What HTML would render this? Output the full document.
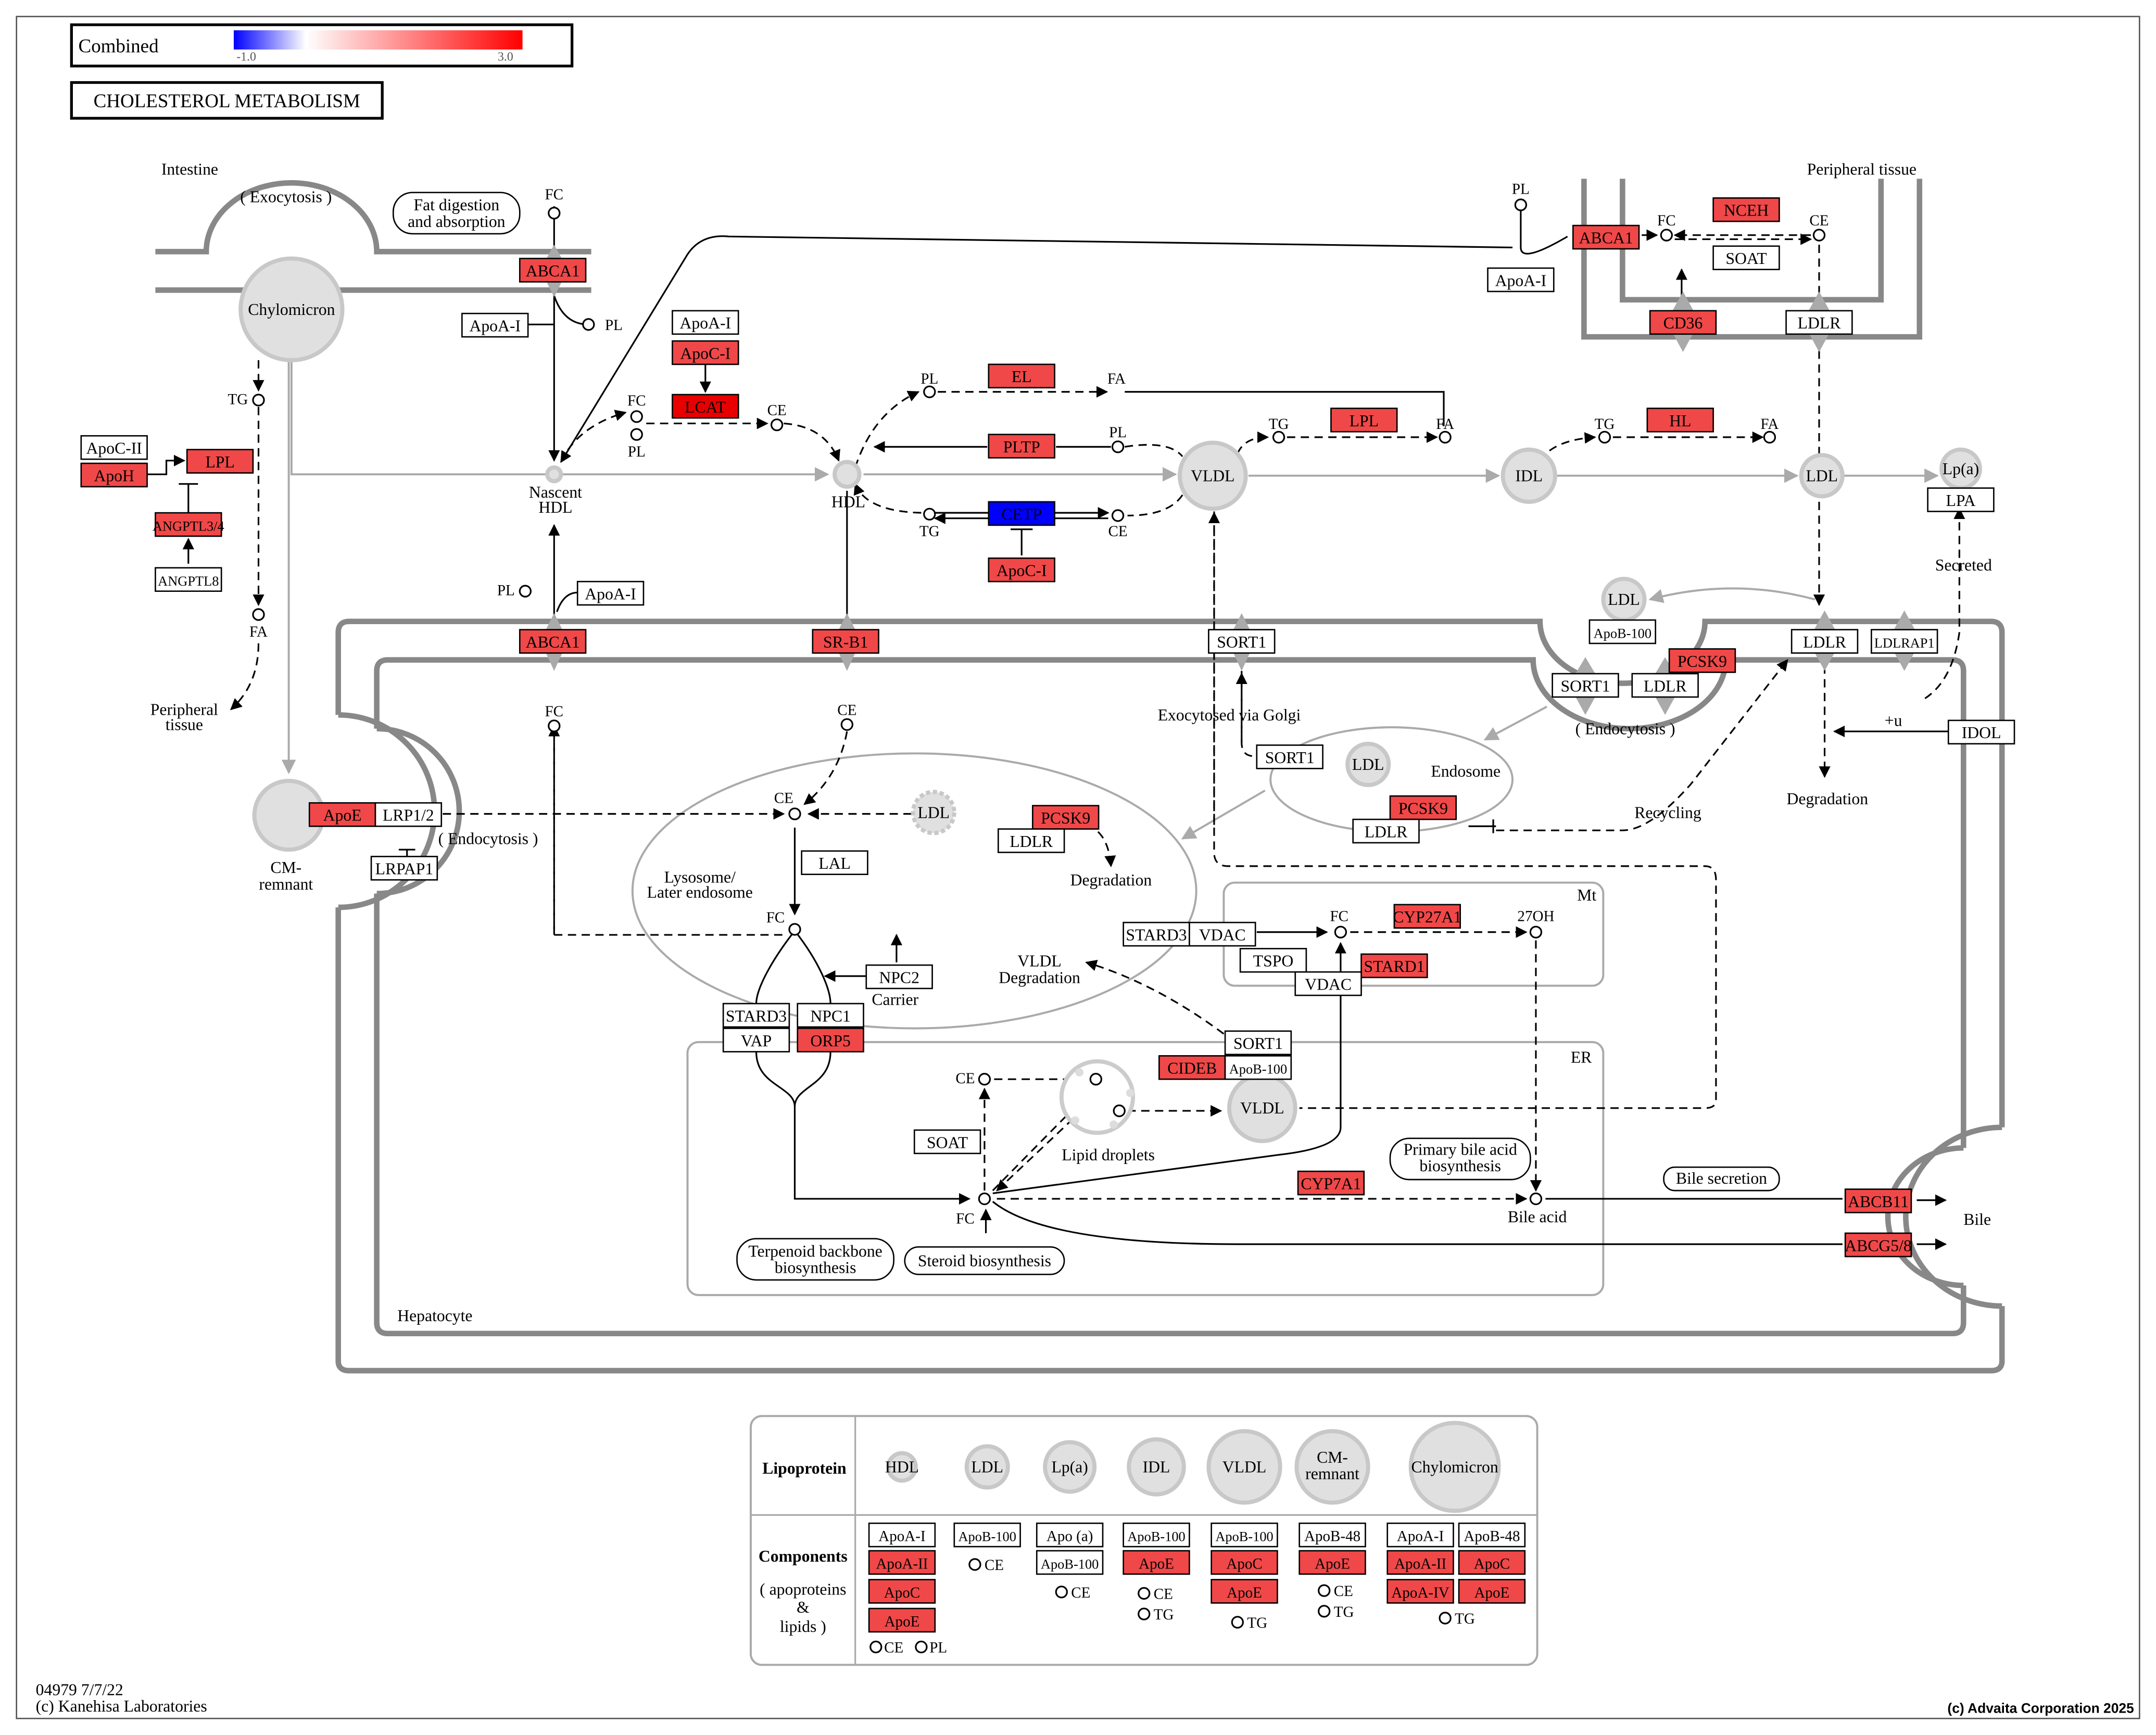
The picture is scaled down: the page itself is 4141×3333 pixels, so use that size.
<!DOCTYPE html>
<html><head><meta charset="utf-8"><style>html,body{margin:0;padding:0;background:#fff}svg{display:block}</style></head><body>
<svg width="4141" height="3333" viewBox="0 0 1568 1262" xmlns="http://www.w3.org/2000/svg" font-family="Liberation Serif, serif" font-size="12">
<defs>
<marker id="a" viewBox="0 0 10 10" refX="9" refY="5" markerWidth="7" markerHeight="7" orient="auto"><path d="M0,0L10,5L0,10z" fill="#000"/></marker>
<marker id="g" viewBox="0 0 10 10" refX="9" refY="5" markerWidth="7" markerHeight="7" orient="auto"><path d="M0,0L10,5L0,10z" fill="#aaa"/></marker>
<linearGradient id="grad" x1="0" x2="1"><stop offset="0" stop-color="#0000ff"/><stop offset="0.25" stop-color="#ffffff"/><stop offset="1" stop-color="#ff0000"/></linearGradient>
</defs>
<rect width="1568" height="1262" fill="#fff"/>
<rect x="12" y="12" width="1544" height="1238" fill="none" stroke="#555" stroke-width="1"/>
<rect x="52" y="18" width="364" height="30" fill="#fff" stroke="#000" stroke-width="2"/>
<text x="57" y="38" font-size="14">Combined</text>
<rect x="170" y="22" width="210" height="14" fill="url(#grad)"/>
<text x="172" y="44" font-size="9" fill="#555">-1.0</text><text x="362" y="44" font-size="9" fill="#555">3.0</text>
<rect x="52" y="60" width="226" height="26" fill="#fff" stroke="#000" stroke-width="2"/>
<text x="165" y="78" text-anchor="middle" font-size="14">CHOLESTEROL  METABOLISM</text>

<g fill="none" stroke="#888" stroke-width="4">
<path d="M113,183 H150 A62,50 0 0 1 274,183 H430"/>
<path d="M113,211 H430"/>
<path d="M1152,130 V245 H1396 V130"/>
<path d="M1180,130 V218 H1368 V130"/>
<path d="M246,520 V460 Q246,452 254,452 H1120 A60,45 0 0 0 1240,452 H1448 Q1456,452 1456,460 V820 M1456,950 V990 Q1456,997 1448,997 H254 Q246,997 246,990 V660"/>
<path d="M274,530 V488 Q274,480 282,480 H1115 A70,50 0 0 0 1255,480 H1420 Q1428,480 1428,488 V835 M1428,935 V962 Q1428,970 1420,970 H282 Q274,970 274,962 V650"/>
<path d="M246,520 A70,70 0 0 1 246,660 M274,530 A60,60 0 0 1 274,650"/>
<path d="M1456,820 A70,65 0 0 0 1456,950 M1428,835 A55,50 0 0 0 1428,935"/>
</g>
<g fill="none" stroke="#aaa" stroke-width="1.5">
<ellipse cx="665" cy="648" rx="205" ry="100"/>
<rect x="890" y="642" width="276" height="75" rx="8"/>
<rect x="500" y="758" width="666" height="184" rx="8"/>
<ellipse cx="1012" cy="567" rx="88" ry="38"/>
</g>
<g font-size="12">
<text x="138" y="127" text-anchor="middle">Intestine</text>
<text x="208" y="147" text-anchor="middle">( Exocytosis )</text>
<text x="1354" y="127" text-anchor="middle">Peripheral tissue</text>
<text x="134" y="520" text-anchor="middle">Peripheral</text><text x="134" y="531" text-anchor="middle">tissue</text>
<text x="208" y="635" text-anchor="middle">CM-</text><text x="208" y="647" text-anchor="middle">remnant</text>
<text x="355" y="614" text-anchor="middle">( Endocytosis )</text>
<text x="1182" y="534" text-anchor="middle">( Endocytosis )</text>
<text x="894" y="524" text-anchor="middle">Exocytosed via Golgi</text>
<text x="1066" y="565" text-anchor="middle">Endosome</text>
<text x="1213" y="595" text-anchor="middle">Recycling</text>
<text x="1329" y="585" text-anchor="middle">Degradation</text>
<text x="1428" y="415" text-anchor="middle">Secreted</text>
<text x="1377" y="528" text-anchor="middle">+u</text>
<text x="808" y="644" text-anchor="middle">Degradation</text>
<text x="509" y="642" text-anchor="middle">Lysosome/</text><text x="509" y="653" text-anchor="middle">Later endosome</text>
<text x="756" y="703" text-anchor="middle">VLDL</text><text x="756" y="715" text-anchor="middle">Degradation</text>
<text x="651" y="731" text-anchor="middle">Carrier</text>
<text x="1154" y="655" text-anchor="middle">Mt</text>
<text x="1150" y="773" text-anchor="middle">ER</text>
<text x="806" y="844" text-anchor="middle">Lipid droplets</text>
<text x="1118" y="889" text-anchor="middle">Bile acid</text>
<text x="1438" y="891" text-anchor="middle">Bile</text>
<text x="289" y="961">Hepatocyte</text>
<text x="404" y="362" text-anchor="middle">Nascent</text><text x="404" y="373" text-anchor="middle">HDL</text>
<text x="617" y="369" text-anchor="middle">HDL</text>
<text x="26" y="1233">04979 7/7/22</text><text x="26" y="1245">(c) Kanehisa Laboratories</text>
<text x="1552" y="1246" text-anchor="end" font-family="Liberation Sans, sans-serif" font-weight="bold" font-size="10">(c) Advaita Corporation 2025</text>
</g>
<g font-size="11">
<text x="403" y="145" text-anchor="middle">FC</text>
<text x="440" y="240">PL</text>
<text x="173" y="294" text-anchor="middle">TG</text>
<text x="188" y="463" text-anchor="middle">FA</text>
<text x="463" y="295" text-anchor="middle">FC</text><text x="463" y="332" text-anchor="middle">PL</text>
<text x="565" y="302" text-anchor="middle">CE</text>
<text x="676" y="279" text-anchor="middle">PL</text><text x="812" y="279" text-anchor="middle">FA</text>
<text x="813" y="318" text-anchor="middle">PL</text>
<text x="676" y="390" text-anchor="middle">TG</text><text x="813" y="390" text-anchor="middle">CE</text>
<text x="930" y="312" text-anchor="middle">TG</text><text x="1051" y="312" text-anchor="middle">FA</text>
<text x="1167" y="312" text-anchor="middle">TG</text><text x="1287" y="312" text-anchor="middle">FA</text>
<text x="1106" y="141" text-anchor="middle">PL</text>
<text x="1212" y="164" text-anchor="middle">FC</text><text x="1323" y="164" text-anchor="middle">CE</text>
<text x="368" y="433" text-anchor="middle">PL</text>
<text x="403" y="521" text-anchor="middle">FC</text>
<text x="616" y="520" text-anchor="middle">CE</text>
<text x="570" y="584" text-anchor="middle">CE</text>
<text x="564" y="671" text-anchor="middle">FC</text>
<text x="974" y="670" text-anchor="middle">FC</text><text x="1117" y="670" text-anchor="middle">27OH</text>
<text x="702" y="788" text-anchor="middle">CE</text><text x="813" y="789" text-anchor="middle">CE</text>
<text x="800" y="813" text-anchor="middle">TG</text>
<text x="702" y="890" text-anchor="middle">FC</text>
</g>
<g fill="none" stroke="#aaa" stroke-width="1.5">
<path d="M212,263 V345 H602" marker-end="url(#g)"/>
<path d="M210,263 V562" marker-end="url(#g)"/>
<path d="M628,345 H855" marker-end="url(#g)"/>
<path d="M908,346 H1090" marker-end="url(#g)"/>
<path d="M1132,346 H1307" marker-end="url(#g)"/>
<path d="M1341,346 H1409" marker-end="url(#g)"/>
<path d="M1320,436 Q1260,420 1200,436" marker-end="url(#g)"/>
<path d="M1125,514 L1080,538" marker-end="url(#g)"/>
<path d="M920,575 L860,610" marker-end="url(#g)"/>
</g>
<g fill="none" stroke="#000" stroke-width="1.2">
<path d="M403,150 V335" marker-end="url(#a)"/>
<path d="M428,236 Q410,236 403,215"/>
<path d="M384,236 H403"/>
<path d="M513,264 V285" marker-end="url(#a)"/>
<path d="M1100,180 L530,172 Q510,170 500,185 L408,336" marker-end="url(#a)"/>
<path d="M1106,153 V180 Q1106,192 1140,172"/>
<path d="M137,410 V392" marker-end="url(#a)"/>
<path d="M137,373 V352 M130,352 H144"/>
<path d="M107,345 H121 V335 H134" marker-end="url(#a)"/>
<path d="M403,455 V382" marker-end="url(#a)"/>
<path d="M420,431 Q410,431 405,445"/>
<path d="M616,455 V357"/>
<path d="M718,325 H636" marker-end="url(#a)"/>
<path d="M768,325 H808"/>
<path d="M680,373 H806" marker-end="url(#a)"/>
<path d="M806,377 H680" marker-end="url(#a)"/>
<path d="M743,404 V385 M735,385 H751"/>
<path d="M818,285 H1050 V310"/>
<path d="M1223,225 V196" marker-end="url(#a)"/>
<path d="M1420,532 H1334" marker-end="url(#a)"/>
<path d="M1068,601 L1088,601 M1086,596 V606"/>
<path d="M578,602 V665" marker-end="url(#a)"/>
<path d="M578,677 C560,700 550,720 550,730 M578,677 C596,700 604,720 604,730"/>
<path d="M550,765 C550,790 578,790 578,805 C578,790 604,790 604,765"/>
<path d="M578,805 V872 H705" marker-end="url(#a)"/>
<path d="M652,710 H630" /><path d="M630,710 L600,710" marker-end="url(#a)"/>
<path d="M652,700 V680" marker-end="url(#a)"/>
<path d="M914,678 H965" marker-end="url(#a)"/>
<path d="M975,706 V686" marker-end="url(#a)"/>
<path d="M975,706 V820 Q975,835 930,840 L722,868"/>
<path d="M1124,872 H1340 M1394,873 H1415" marker-end="url(#a)"/>
<path d="M722,874 Q760,905 900,905 H1340 M1394,905 H1415" marker-end="url(#a)"/>
<path d="M717,897 V880" marker-end="url(#a)"/>
<path d="M296,618 V626 M290,618 H302"/>
</g>
<g fill="none" stroke="#000" stroke-width="1.2" stroke-dasharray="6,4">
<path d="M188,296 V440" marker-end="url(#a)"/>
<path d="M188,468 C188,490 180,505 168,516" marker-end="url(#a)"/>
<path d="M188,262 V284" marker-end="url(#a)"/>
<path d="M408,336 Q420,310 455,300" marker-end="url(#a)"/>
<path d="M470,308 H558" marker-end="url(#a)"/>
<path d="M570,308 Q600,310 610,335" marker-end="url(#a)"/>
<path d="M622,340 Q635,300 668,285" marker-end="url(#a)"/>
<path d="M682,285 H805" marker-end="url(#a)"/>
<path d="M818,325 Q850,320 860,332" />
<path d="M860,360 Q850,375 820,375" />
<path d="M670,373 Q630,372 622,352" marker-end="url(#a)"/>
<path d="M900,330 Q905,318 922,318" marker-end="url(#a)"/>
<path d="M936,318 H1045" marker-end="url(#a)"/>
<path d="M1120,335 Q1130,320 1160,318" marker-end="url(#a)"/>
<path d="M1173,318 H1282" marker-end="url(#a)"/>
<path d="M1317,171 H1218" marker-end="url(#a)"/>
<path d="M1218,174 H1317" marker-end="url(#a)"/>
<path d="M1194,171 H1205" marker-end="url(#a)"/>
<path d="M1323,178 V225 M1323,245 V440" marker-end="url(#a)"/>
<path d="M1327,484 V565" marker-end="url(#a)"/>
<path d="M1400,508 Q1420,495 1425,460 V370" marker-end="url(#a)"/>
<path d="M403,530 V680 H570" />
<path d="M403,680 V528" marker-end="url(#a)"/>
<path d="M322,592 H570" marker-end="url(#a)"/>
<path d="M663,592 H588" marker-end="url(#a)"/>
<path d="M616,532 Q610,565 585,585" marker-end="url(#a)"/>
<path d="M903,488 V540 Q903,550 912,550" />
<path d="M903,540 V490" marker-end="url(#a)"/>
<path d="M883,372 V620 Q883,630 893,630 H1240 Q1248,630 1248,640 V800 Q1248,806 1240,806 H945"/>
<path d="M883,600 V373" marker-end="url(#a)"/>
<path d="M1088,604 H1180 Q1200,604 1230,570 L1300,480" marker-end="url(#a)"/>
<path d="M790,600 Q806,605 808,630" marker-end="url(#a)"/>
<path d="M982,678 H1110" marker-end="url(#a)"/>
<path d="M1117,684 V866" marker-end="url(#a)"/>
<path d="M890,752 Q840,715 790,700" marker-end="url(#a)"/>
<path d="M723,785 H790" marker-end="url(#a)"/>
<path d="M820,808 H888" marker-end="url(#a)"/>
<path d="M716,866 V792" marker-end="url(#a)"/>
<path d="M722,866 L785,802" marker-end="url(#a)"/>
<path d="M795,800 L725,866" marker-end="url(#a)"/>
<path d="M725,872 H1110" marker-end="url(#a)"/>
</g>
<g fill="#aaa">
<path d="M403,178 L413,196 L403,216 L393,196z"/>
<path d="M403,446 L413,466 L403,488 L393,466z"/>
<path d="M616,446 L626,466 L616,488 L606,466z"/>
<path d="M903,446 L913,466 L903,488 L893,466z"/>
<path d="M1224,212 L1236,234 L1224,256 L1212,234z"/>
<path d="M1323,212 L1335,234 L1323,256 L1311,234z"/>
<path d="M1327,444 L1339,466 L1327,488 L1315,466z"/>
<path d="M1385,444 L1397,466 L1385,488 L1373,466z"/>
<path d="M1153,478 L1165,498 L1153,520 L1141,498z"/>
<path d="M1211,478 L1223,498 L1211,520 L1199,498z"/>
</g>
<g fill="#e0e0e0" stroke="#c8c8c8" stroke-width="3">
<circle cx="212" cy="225" r="37"/>
<circle cx="210" cy="593" r="25"/>
<circle cx="616" cy="345" r="9"/>
<circle cx="403" cy="345" r="5"/>
<circle cx="882" cy="346" r="24"/>
<circle cx="1112" cy="346" r="19"/>
<circle cx="1325" cy="346" r="15"/>
<circle cx="1426" cy="341" r="14"/>
<circle cx="1181" cy="436" r="15"/>
<circle cx="995" cy="556" r="15"/>
<circle cx="918" cy="806" r="24"/>
<circle cx="679" cy="591" r="15" stroke-dasharray="3,2"/>
<circle cx="798" cy="798" r="26" fill="#fff" stroke="#ccc"/>
</g>
<g fill="#ddd"><circle cx="785" cy="780" r="3"/><circle cx="822" cy="795" r="3"/><circle cx="782" cy="815" r="3"/><circle cx="810" cy="818" r="3"/></g>
<g font-size="12" text-anchor="middle">
<text x="212" y="229">Chylomicron</text>
<text x="882" y="350">VLDL</text><text x="1112" y="350">IDL</text><text x="1325" y="350">LDL</text>
<text x="1426" y="345">Lp(a)</text><text x="1181" y="440">LDL</text><text x="995" y="560">LDL</text>
<text x="918" y="810">VLDL</text><text x="679" y="595">LDL</text>
</g>
<g fill="#fff" stroke="#000" stroke-width="1.2">
<circle cx="403" cy="155" r="4"/><circle cx="428" cy="236" r="4"/><circle cx="188" cy="291" r="4"/><circle cx="188" cy="447" r="4"/>
<circle cx="463" cy="303" r="4"/><circle cx="463" cy="316" r="4"/><circle cx="565" cy="309" r="4"/>
<circle cx="676" cy="285" r="4"/><circle cx="813" cy="325" r="4"/><circle cx="676" cy="374" r="4"/><circle cx="813" cy="375" r="4"/>
<circle cx="930" cy="318" r="4"/><circle cx="1051" cy="318" r="4"/><circle cx="1167" cy="318" r="4"/><circle cx="1287" cy="318" r="4"/>
<circle cx="1106" cy="149" r="4"/><circle cx="1212" cy="171" r="4"/><circle cx="1323" cy="171" r="4"/>
<circle cx="382" cy="430" r="4"/><circle cx="403" cy="528" r="4"/><circle cx="616" cy="527" r="4"/>
<circle cx="578" cy="592" r="4"/><circle cx="578" cy="676" r="4"/><circle cx="975" cy="678" r="4"/><circle cx="1117" cy="678" r="4"/>
<circle cx="716" cy="785" r="4"/><circle cx="797" cy="785" r="4"/><circle cx="814" cy="808" r="4"/><circle cx="716" cy="872" r="4"/><circle cx="1117" cy="872" r="4"/>
</g>
<g fill="#fff" stroke="#000" stroke-width="1">
<rect x="286" y="140" width="92" height="30" rx="14"/>
<rect x="1011" y="828" width="102" height="30" rx="14"/>
<rect x="1210" y="849" width="84" height="17" rx="8"/>
<rect x="536" y="901" width="114" height="30" rx="14"/>
<rect x="658" y="907" width="116" height="20" rx="10"/>
</g>
<g font-size="12" text-anchor="middle">
<text x="332" y="153">Fat digestion</text><text x="332" y="165">and absorption</text>
<text x="1062" y="840">Primary bile acid</text><text x="1062" y="852">biosynthesis</text>
<text x="1252" y="861">Bile secretion</text>
<text x="593" y="914">Terpenoid backbone</text><text x="593" y="926">biosynthesis</text>
<text x="716" y="921">Steroid biosynthesis</text>
</g>
<g stroke="#000" stroke-width="1" font-size="12" text-anchor="middle">
<g fill="#f04848">
<rect x="378" y="188" width="48" height="17"/>
<rect x="489" y="248" width="48" height="17"/>
<rect x="136" y="327" width="48" height="17"/>
<rect x="59" y="337" width="48" height="17"/>
<rect x="113" y="373" width="48" height="17"/>
<rect x="719" y="265" width="48" height="17"/>
<rect x="719" y="316" width="48" height="17"/>
<rect x="719" y="406" width="48" height="17"/>
<rect x="968" y="297" width="48" height="17"/>
<rect x="1198" y="297" width="48" height="17"/>
<rect x="1144" y="164" width="48" height="17"/>
<rect x="1246" y="144" width="48" height="17"/>
<rect x="1200" y="226" width="48" height="17"/>
<rect x="378" y="458" width="48" height="17"/>
<rect x="591" y="458" width="48" height="17"/>
<rect x="1214" y="472" width="48" height="17"/>
<rect x="1011" y="579" width="48" height="17"/>
<rect x="225" y="584" width="48" height="17"/>
<rect x="751" y="586" width="48" height="17"/>
<rect x="1014" y="658" width="48" height="17"/>
<rect x="990" y="694" width="48" height="17"/>
<rect x="580" y="748" width="48" height="17"/>
<rect x="843" y="768" width="48" height="17"/>
<rect x="944" y="852" width="48" height="17"/>
<rect x="1342" y="865" width="48" height="17"/>
<rect x="1342" y="897" width="48" height="17"/>
</g>
<rect x="489" y="287" width="48" height="17" fill="#e80000"/>
<rect x="719" y="365" width="48" height="17" fill="#0000ff"/>
<g fill="#fff">
<rect x="336" y="228" width="48" height="17"/>
<rect x="489" y="226" width="48" height="17"/>
<rect x="59" y="317" width="48" height="17"/>
<rect x="113" y="413" width="48" height="17"/>
<rect x="1082" y="195" width="48" height="17"/>
<rect x="1246" y="179" width="48" height="17"/>
<rect x="1299" y="226" width="48" height="17"/>
<rect x="1402" y="355" width="48" height="17"/>
<rect x="420" y="423" width="48" height="17"/>
<rect x="879" y="458" width="48" height="17"/>
<rect x="1156" y="451" width="48" height="17"/>
<rect x="1129" y="490" width="48" height="17"/>
<rect x="1187" y="490" width="48" height="17"/>
<rect x="1303" y="458" width="48" height="17"/>
<rect x="1361" y="458" width="48" height="17"/>
<rect x="1417" y="524" width="48" height="17"/>
<rect x="914" y="542" width="48" height="17"/>
<rect x="984" y="596" width="48" height="17"/>
<rect x="273" y="584" width="48" height="17"/>
<rect x="270" y="623" width="48" height="17"/>
<rect x="583" y="619" width="48" height="17"/>
<rect x="726" y="603" width="48" height="17"/>
<rect x="817" y="671" width="48" height="17"/>
<rect x="865" y="671" width="48" height="17"/>
<rect x="902" y="690" width="48" height="17"/>
<rect x="942" y="707" width="48" height="17"/>
<rect x="630" y="702" width="48" height="17"/>
<rect x="526" y="730" width="48" height="17"/>
<rect x="580" y="730" width="48" height="17"/>
<rect x="526" y="748" width="48" height="17"/>
<rect x="891" y="750" width="48" height="17"/>
<rect x="891" y="768" width="48" height="17"/>
<rect x="665" y="822" width="48" height="17"/>
</g>
</g>
<g font-size="12" text-anchor="middle">
<text x="402" y="201">ABCA1</text><text x="513" y="261">ApoC-I</text><text x="160" y="340">LPL</text><text x="83" y="350">ApoH</text>
<text x="137" y="386" font-size="10">ANGPTL3/4</text><text x="743" y="278">EL</text><text x="743" y="329">PLTP</text><text x="743" y="419">ApoC-I</text>
<text x="992" y="310">LPL</text><text x="1222" y="310">HL</text><text x="1168" y="177">ABCA1</text><text x="1270" y="157">NCEH</text>
<text x="1224" y="239">CD36</text><text x="402" y="471">ABCA1</text><text x="615" y="471">SR-B1</text><text x="1238" y="485">PCSK9</text>
<text x="1035" y="592">PCSK9</text><text x="249" y="597">ApoE</text><text x="775" y="599">PCSK9</text><text x="1038" y="671">CYP27A1</text>
<text x="1014" y="707">STARD1</text><text x="604" y="761">ORP5</text><text x="867" y="781">CIDEB</text><text x="968" y="865">CYP7A1</text>
<text x="1366" y="878">ABCB11</text><text x="1366" y="910">ABCG5/8</text>
<text x="513" y="300">LCAT</text><text x="743" y="378">CETP</text>
<text x="360" y="241">ApoA-I</text><text x="513" y="239">ApoA-I</text><text x="83" y="330">ApoC-II</text><text x="137" y="426" font-size="10">ANGPTL8</text>
<text x="1106" y="208">ApoA-I</text><text x="1270" y="192">SOAT</text><text x="1323" y="239">LDLR</text><text x="1426" y="368">LPA</text>
<text x="444" y="436">ApoA-I</text><text x="903" y="471">SORT1</text><text x="1180" y="464" font-size="10">ApoB-100</text>
<text x="1153" y="503">SORT1</text><text x="1211" y="503">LDLR</text><text x="1327" y="471">LDLR</text><text x="1385" y="471" font-size="10">LDLRAP1</text>
<text x="1441" y="537">IDOL</text><text x="938" y="555">SORT1</text><text x="1008" y="609">LDLR</text><text x="297" y="597">LRP1/2</text>
<text x="294" y="636">LRPAP1</text><text x="607" y="632">LAL</text><text x="750" y="616">LDLR</text><text x="841" y="684">STARD3</text>
<text x="889" y="684">VDAC</text><text x="926" y="703">TSPO</text><text x="966" y="720">VDAC</text><text x="654" y="715">NPC2</text>
<text x="550" y="743">STARD3</text><text x="604" y="743">NPC1</text><text x="550" y="761">VAP</text><text x="915" y="763">SORT1</text>
<text x="915" y="781" font-size="10">ApoB-100</text><text x="689" y="835">SOAT</text>
</g>

<rect x="546" y="1030" width="572" height="181" rx="8" fill="#fff" stroke="#aaa" stroke-width="1.5"/>
<path d="M622,1030 V1211 M546,1102 H1118" stroke="#aaa" stroke-width="1.2"/>
<g font-size="12" text-anchor="middle">
<text x="585" y="1072" font-weight="bold">Lipoprotein</text>
<text x="584" y="1136" font-weight="bold">Components</text>
<text x="584" y="1160">( apoproteins</text><text x="584" y="1173">&amp;</text><text x="584" y="1187">lipids )</text>
</g>
<g fill="#e0e0e0" stroke="#c8c8c8" stroke-width="3">
<circle cx="656" cy="1067" r="10"/><circle cx="718" cy="1067" r="15"/><circle cx="778" cy="1067" r="18"/>
<circle cx="841" cy="1067" r="20"/><circle cx="905" cy="1067" r="26"/><circle cx="969" cy="1067" r="26"/><circle cx="1058" cy="1067" r="32"/>
</g>
<g font-size="12" text-anchor="middle">
<text x="656" y="1071">HDL</text><text x="718" y="1071">LDL</text><text x="778" y="1071">Lp(a)</text><text x="841" y="1071">IDL</text>
<text x="905" y="1071">VLDL</text><text x="969" y="1064">CM-</text><text x="969" y="1076">remnant</text><text x="1058" y="1071">Chylomicron</text>
</g>
<g stroke="#000" stroke-width="1">
<g fill="#fff">
<rect x="632" y="1108" width="48" height="17"/><rect x="694" y="1108" width="48" height="17"/><rect x="754" y="1108" width="48" height="17"/>
<rect x="754" y="1128" width="48" height="17"/><rect x="817" y="1108" width="48" height="17"/><rect x="881" y="1108" width="48" height="17"/>
<rect x="945" y="1108" width="48" height="17"/><rect x="1009" y="1108" width="48" height="17"/><rect x="1061" y="1108" width="48" height="17"/>
</g>
<g fill="#f04848">
<rect x="632" y="1128" width="48" height="17"/><rect x="632" y="1149" width="48" height="17"/><rect x="632" y="1170" width="48" height="17"/>
<rect x="817" y="1128" width="48" height="17"/><rect x="881" y="1128" width="48" height="17"/><rect x="881" y="1149" width="48" height="17"/>
<rect x="945" y="1128" width="48" height="17"/><rect x="1009" y="1128" width="48" height="17"/><rect x="1009" y="1149" width="48" height="17"/>
<rect x="1061" y="1128" width="48" height="17"/><rect x="1061" y="1149" width="48" height="17"/>
</g>
</g>
<g font-size="11" text-anchor="middle">
<text x="656" y="1121">ApoA-I</text><text x="718" y="1121" font-size="10">ApoB-100</text><text x="778" y="1121">Apo (a)</text>
<text x="778" y="1141" font-size="10">ApoB-100</text><text x="841" y="1121" font-size="10">ApoB-100</text><text x="905" y="1121" font-size="10">ApoB-100</text>
<text x="969" y="1121">ApoB-48</text><text x="1033" y="1121">ApoA-I</text><text x="1085" y="1121">ApoB-48</text>
<text x="656" y="1141">ApoA-II</text><text x="656" y="1162">ApoC</text><text x="656" y="1183">ApoE</text>
<text x="841" y="1141">ApoE</text><text x="905" y="1141">ApoC</text><text x="905" y="1162">ApoE</text><text x="969" y="1141">ApoE</text>
<text x="1033" y="1141">ApoA-II</text><text x="1033" y="1162">ApoA-IV</text><text x="1085" y="1141">ApoC</text><text x="1085" y="1162">ApoE</text>
</g>
<g fill="#fff" stroke="#000" stroke-width="1.2">
<circle cx="637" cy="1198" r="4"/><circle cx="670" cy="1198" r="4"/><circle cx="709" cy="1138" r="4"/><circle cx="772" cy="1158" r="4"/>
<circle cx="832" cy="1159" r="4"/><circle cx="832" cy="1174" r="4"/><circle cx="900" cy="1180" r="4"/><circle cx="963" cy="1157" r="4"/>
<circle cx="963" cy="1172" r="4"/><circle cx="1051" cy="1177" r="4"/>
</g>
<g font-size="11">
<text x="643" y="1202">CE</text><text x="676" y="1202">PL</text><text x="716" y="1142">CE</text><text x="779" y="1162">CE</text>
<text x="839" y="1163">CE</text><text x="839" y="1178">TG</text><text x="907" y="1184">TG</text><text x="970" y="1161">CE</text>
<text x="970" y="1176">TG</text><text x="1058" y="1181">TG</text>
</g>
</svg>
</body></html>
